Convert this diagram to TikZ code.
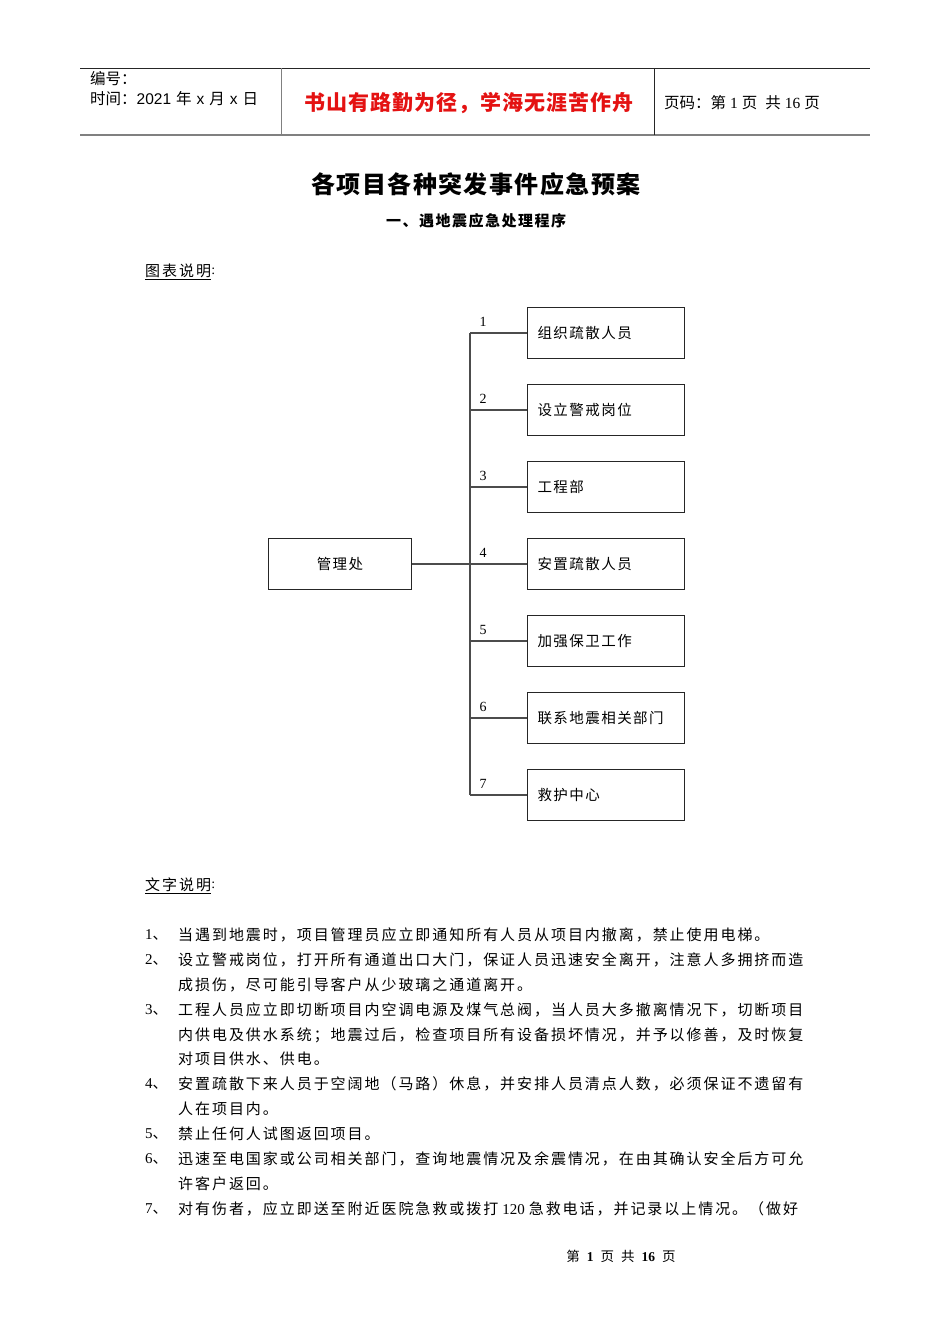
\documentclass[tikz,border=0pt]{standalone}
\usepackage{fontspec}
\setmainfont{Liberation Serif}
\newfontfamily\cjk{Noto Sans CJK SC}
\newfontfamily\cjksp[LetterSpace=13]{Noto Sans CJK SC}
\newfontfamily\cjkbx[LetterSpace=10]{Noto Sans CJK SC}
\newfontfamily\hsans{Liberation Sans}
\definecolor{hred}{RGB}{228,18,18}
\newcommand{\gap}{\hspace{4pt}}
\begin{document}
\begin{tikzpicture}[x=1pt,y=-1pt,
  every node/.style={inner sep=0pt},
  body/.style={anchor=west, font=\cjksp\fontsize{15}{17}\selectfont},
  head/.style={anchor=west, font=\cjk\fontsize{15.5}{18}\selectfont},
  box/.style={draw=black!85, line width=1pt, anchor=north west, minimum width=157pt,
    minimum height=51pt, text width=137pt, inner xsep=10pt, align=left,
    font=\cjkbx\fontsize{14.5}{16}\selectfont},
  conn/.style={draw=black!70, line width=1.1pt},
  num/.style={font=\rmfamily\fontsize{14}{16}\selectfont}]
\useasboundingbox (0,0) rectangle (950,1344);
\fill[white] (0,0) rectangle (950,1344);

% header
\draw[black!85, line width=1pt] (80,68) coordinate (htl) -- (870,68) coordinate (htr);
\draw[black!50, line width=2pt] (80,135) coordinate (hbl) -- (870,135) coordinate (hbr);
\draw[black!50, line width=1pt] (281,68) coordinate (v1t) -- (281,135) coordinate (v1b);
\draw[black!85, line width=1pt] (654,68) coordinate (v2t) -- (654,135) coordinate (v2b);
\node[head] (code) at (90,79) {编号：};
\node[head] (time) at (90,99) {时间：{\hsans 2021}\hspace{5pt}年\hspace{5pt}{\hsans x}\hspace{5pt}月\hspace{5pt}{\hsans x}\hspace{5pt}日};
\node[font=\cjk\bfseries\fontsize{21}{24}\selectfont\addfontfeature{LetterSpace=5}, text=hred]
  (motto) at (469,103) {书山有路勤为径，学海无涯苦作舟};
\node[head] (page) at (664,103) {页码：第\gap{\rmfamily 1}\gap 页\hspace{8pt}共\gap{\rmfamily 16}\gap 页};

% titles
\node[font=\cjk\bfseries\fontsize{24}{28}\selectfont\addfontfeature{LetterSpace=6}]
  (title) at (476,184) {各项目各种突发事件应急预案};
\node[font=\cjk\bfseries\fontsize{15}{18}\selectfont\addfontfeature{LetterSpace=10}]
  (sub) at (476,221) {一、遇地震应急处理程序};

% chart caption
\node[body] (tb) at (145,271) {图表说明};
\draw[black, line width=0.8pt] ([yshift=-1pt]tb.south west) -- ([yshift=-1pt]tb.south east);
\node[anchor=west, font=\rmfamily\fontsize{14}{16}\selectfont] (tbc) at (tb.east) {:};

% diagram
\node[box, align=center, minimum width=143pt, text width=123pt] (mgr) at (268,538) {管理处};
\node[box] (b1) at (527,307) {组织疏散人员};
\node[box] (b2) at (527,384) {设立警戒岗位};
\node[box] (b3) at (527,461) {工程部};
\node[box] (b4) at (527,538) {安置疏散人员};
\node[box] (b5) at (527,615) {加强保卫工作};
\node[box] (b6) at (527,692) {联系地震相关部门};
\node[box] (b7) at (527,769) {救护中心};

\draw[conn] (b1.west) -- ++(-57,0) coordinate (ttop);
\draw[conn] (b7.west) -- ++(-57,0) coordinate (tbot);
\draw[conn] (ttop) -- (tbot);
\foreach \i in {2,3,5,6} {\draw[conn] (b\i.west) -- ++(-57,0);}
\draw[conn] (mgr.east) -- (b4.west);
\foreach \i in {1,...,7} {\node[num] (n\i) at ([xshift=-44pt,yshift=11pt]b\i.west) {\i};}

% text caption
\node[body] (wz) at (145,885) {文字说明};
\draw[black, line width=0.8pt] ([yshift=-1pt]wz.south west) -- ([yshift=-1pt]wz.south east);
\node[anchor=west, font=\rmfamily\fontsize{14}{16}\selectfont] (wzc) at (wz.east) {:};

% list
\node[body] (i1) at (145,935) {{\rmfamily 1}、};
\node[body] (t1) at (178,935) {当遇到地震时，项目管理员应立即通知所有人员从项目内撤离，禁止使用电梯。};
\node[body] (i2) at (145,960) {{\rmfamily 2}、};
\node[body] (t2a) at (178,960) {设立警戒岗位，打开所有通道出口大门，保证人员迅速安全离开，注意人多拥挤而造};
\node[body] (t2b) at (178,985) {成损伤，尽可能引导客户从少玻璃之通道离开。};
\node[body] (i3) at (145,1010) {{\rmfamily 3}、};
\node[body] (t3a) at (178,1010) {工程人员应立即切断项目内空调电源及煤气总阀，当人员大多撤离情况下，切断项目};
\node[body] (t3b) at (178,1035) {内供电及供水系统；地震过后，检查项目所有设备损坏情况，并予以修善，及时恢复};
\node[body] (t3c) at (178,1059) {对项目供水、供电。};
\node[body] (i4) at (145,1084) {{\rmfamily 4}、};
\node[body] (t4a) at (178,1084) {安置疏散下来人员于空阔地（马路）休息，并安排人员清点人数，必须保证不遗留有};
\node[body] (t4b) at (178,1109) {人在项目内。};
\node[body] (i5) at (145,1134) {{\rmfamily 5}、};
\node[body] (t5) at (178,1134) {禁止任何人试图返回项目。};
\node[body] (i6) at (145,1159) {{\rmfamily 6}、};
\node[body] (t6a) at (178,1159) {迅速至电国家或公司相关部门，查询地震情况及余震情况，在由其确认安全后方可允};
\node[body] (t6b) at (178,1184) {许客户返回。};
\node[body] (i7) at (145,1209) {{\rmfamily 7}、};
\node[body] (t7) at (178,1209) {对有伤者，应立即送至附近医院急救或拨打\gap{\rmfamily 120}\gap 急救电话，并记录以上情况。（做好};

% footer
\node[font=\cjk\fontsize{13.5}{15}\selectfont] (foot) at (621,1256) {第\hspace{7pt}{\rmfamily\bfseries 1}\hspace{7pt}页\hspace{7pt}共\hspace{7pt}{\rmfamily\bfseries 16}\hspace{7pt}页};
\end{tikzpicture}
\end{document}
